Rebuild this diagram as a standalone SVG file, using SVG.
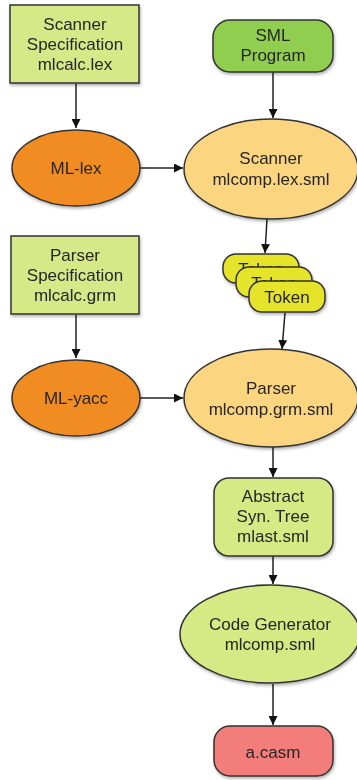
<svg xmlns="http://www.w3.org/2000/svg" width="357" height="780" viewBox="0 0 357 780">
<style>
text{font-family:"Liberation Sans",Arial,sans-serif;font-size:17px;fill:#262626;text-anchor:middle;dominant-baseline:central}
.n{stroke:#333;stroke-width:1.5}
.spec{fill:#d5e988}
.sml{fill:#8fce4f}
.tool{fill:#f08c22}
.gen{fill:#fbd580}
.tok{fill:#e6e42c}
.ast{fill:#d5e985}
.out{fill:#f27d7a}
.c{stroke:#222;stroke-width:1.5;fill:none;marker-end:url(#ah)}
</style>
<defs>
<marker id="ah" viewBox="0 0 10 10" refX="10" refY="5" markerWidth="9" markerHeight="9" markerUnits="userSpaceOnUse" orient="auto"><path d="M0,0L10,5L0,10z" fill="#111"/></marker>
<filter id="sh" x="-20%" y="-20%" width="140%" height="150%"><feDropShadow dx="1" dy="2" stdDeviation="1.5" flood-color="#000" flood-opacity="0.3"/></filter>
</defs>
<g id="connectors">
<line class="c" x1="76" y1="84" x2="76" y2="128"/>
<line class="c" x1="273" y1="72" x2="273" y2="118"/>
<line class="c" x1="140" y1="168" x2="183" y2="168"/>
<line class="c" x1="267" y1="219" x2="265" y2="253"/>
<line class="c" x1="285" y1="313" x2="282" y2="349"/>
<line class="c" x1="76" y1="315" x2="76" y2="358"/>
<line class="c" x1="140" y1="398" x2="183" y2="398"/>
<line class="c" x1="273" y1="447" x2="273" y2="477"/>
<line class="c" x1="273" y1="556" x2="273" y2="584"/>
<line class="c" x1="273" y1="684" x2="273" y2="725"/>
</g>
<g id="scanner-spec" filter="url(#sh)"><rect class="n spec" x="10" y="5" width="129" height="78"/><text x="75" y="24">Scanner</text><text x="75" y="44">Specification</text><text x="75" y="64">mlcalc.lex</text></g>
<g id="sml-program" filter="url(#sh)"><rect class="n sml" x="213" y="20" width="120" height="52" rx="17"/><text x="273" y="35">SML</text><text x="273" y="55">Program</text></g>
<g id="ml-lex" filter="url(#sh)"><ellipse class="n tool" cx="76" cy="168" rx="64" ry="38"/><text x="76" y="168">ML-lex</text></g>
<g id="scanner" filter="url(#sh)"><ellipse class="n gen" cx="271" cy="169" rx="87" ry="50"/><text x="271" y="158">Scanner</text><text x="271" y="179">mlcomp.lex.sml</text></g>
<g id="tokens" filter="url(#sh)">
<rect class="n tok" x="223" y="254" width="76" height="29" rx="13"/><text x="261" y="269">Token</text>
<rect class="n tok" x="236" y="267" width="76" height="30" rx="13"/><text x="274" y="283">Token</text>
<rect class="n tok" x="249" y="281" width="76" height="31" rx="13"/><text x="287" y="297">Token</text>
</g>
<g id="parser-spec" filter="url(#sh)"><rect class="n spec" x="11" y="236" width="128" height="78"/><text x="75" y="255">Parser</text><text x="75" y="275">Specification</text><text x="75" y="295">mlcalc.grm</text></g>
<g id="ml-yacc" filter="url(#sh)"><ellipse class="n tool" cx="76" cy="398" rx="64" ry="38"/><text x="76" y="398">ML-yacc</text></g>
<g id="parser" filter="url(#sh)"><ellipse class="n gen" cx="271" cy="398" rx="87" ry="49"/><text x="271" y="388">Parser</text><text x="271" y="409">mlcomp.grm.sml</text></g>
<g id="ast" filter="url(#sh)"><rect class="n ast" x="214" y="478" width="119" height="78" rx="15"/><text x="273" y="496">Abstract</text><text x="273" y="516">Syn. Tree</text><text x="273" y="536">mlast.sml</text></g>
<g id="code-generator" filter="url(#sh)"><ellipse class="n ast" cx="270" cy="634" rx="90" ry="49"/><text x="270" y="624">Code Generator</text><text x="270" y="644">mlcomp.sml</text></g>
<g id="a-casm" filter="url(#sh)"><rect class="n out" x="214" y="726" width="119" height="50" rx="16"/><text x="273" y="752">a.casm</text></g>
</svg>
